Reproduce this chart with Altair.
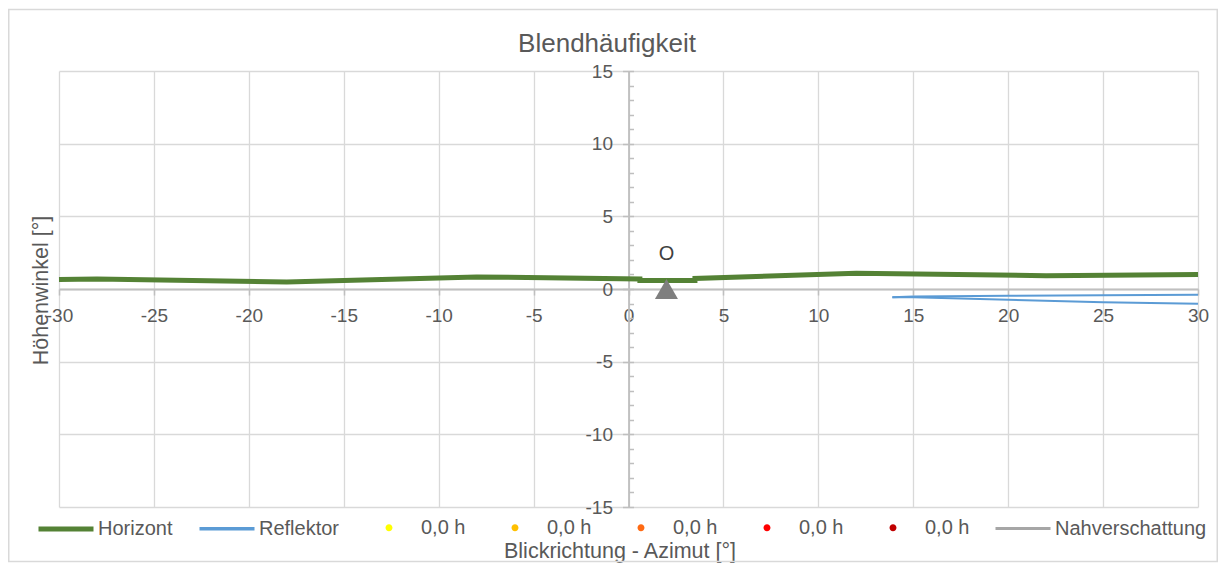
import altair as alt
import pandas as pd

# ---------------- data ----------------
horizont_x = [-30, -28, -18, -8, 0.6, 0.6, 3.5, 3.5, 12, 22, 30]
horizont_y = [0.65, 0.69, 0.48, 0.83, 0.69, 0.58, 0.58, 0.72, 1.08, 0.92, 0.99]

refl_upper_x = [13.9, 15, 20, 25, 30]
refl_upper_y = [-0.56, -0.52, -0.47, -0.43, -0.40]
refl_lower_x = [13.9, 15, 20, 25, 30]
refl_lower_y = [-0.56, -0.57, -0.74, -0.91, -1.02]

marker_x = [2]
marker_y = [0]
marker_label = ["O"]

legend_keys = ["Horizont", "Reflektor", "0,0 h#1", "0,0 h#2", "0,0 h#3",
               "0,0 h#4", "0,0 h#5", "Nahverschattung"]
legend_colors = ["#548235", "#5B9BD5", "#FFFF00", "#FFC000", "#FF6A13",
                 "#FF0000", "#C00000", "#A6A6A6"]

x_ticks = list(range(-30, 31, 5))
y_ticks = list(range(-15, 16, 5))
y_minor = list(range(-15, 16, 1))

# ---------------- styling ----------------
FONT = "Liberation Sans"
TXT = "#595959"
GRID = "#d9d9d9"
AXC = "#bfbfbf"
W, H = 1139, 436
PAD = {"left": 51, "top": 63, "right": 20, "bottom": 56}

LINE = "M-1,0L1,0"
r = 0.127
DOT = f"M{-r},0A{r},{r},0,1,0,{r},0A{r},{r},0,1,0,{-r},0Z"
legend_shapes = [LINE, LINE, DOT, DOT, DOT, DOT, DOT, LINE]
legend_widths = [5, 3.5, 0, 0, 0, 0, 0, 3]

x_scale = alt.Scale(domain=[-30, 30], nice=False, zero=False)
y_scale = alt.Scale(domain=[-15, 15], nice=False, zero=False)

hor_df = pd.DataFrame({"x": horizont_x, "y": horizont_y, "i": range(len(horizont_x))})
refl_df = pd.concat([
    pd.DataFrame({"x": refl_upper_x, "y": refl_upper_y, "part": "a", "i": range(len(refl_upper_x))}),
    pd.DataFrame({"x": refl_lower_x, "y": refl_lower_y, "part": "b", "i": range(len(refl_lower_x))}),
])
mark_df = pd.DataFrame({"x": marker_x, "y": marker_y, "label": marker_label})
leg_df = pd.DataFrame({"series": legend_keys})

x_axis = alt.Axis(
    values=x_ticks, offset=-H / 2, grid=True, gridColor=GRID, gridWidth=1.3,
    domainColor=AXC, domainWidth=1.8, tickColor=AXC, tickWidth=1.5, tickSize=6,
    labelPadding=11, labelFontSize=19, labelColor=TXT, labelFlush=False,
    labelOverlap=False, labelExpr="'' + datum.value",
    title="Blickrichtung - Azimut [°]", titleFontSize=21.5,
    titleFontWeight="normal", titleColor=TXT, titleBaseline="middle",
    titleX=560.5, titleY=262,
)
y_axis = alt.Axis(
    values=y_ticks, offset=-W / 2, grid=True, gridColor=GRID, gridWidth=1.3,
    domainColor=AXC, domainWidth=1.8, tickColor=AXC, tickWidth=1.5, tickSize=6,
    labelPadding=10, labelFontSize=19, labelColor=TXT, labelFlush=False,
    labelOverlap=False, labelExpr="'' + datum.value",
    title="Höhenwinkel [°]", titleFontSize=21.5,
    titleFontWeight="normal", titleColor=TXT, titleAngle=270,
    titleBaseline="middle", titleAlign="center", titleX=-W / 2 - 18, titleY=H / 2 + 1,
)
y_minor_axis = alt.Axis(
    orient="right", offset=-W / 2, values=y_minor, labels=False, domain=False,
    grid=False, ticks=True, tickSize=5, tickColor=AXC, tickWidth=1.5,
)

horizont = alt.Chart(hor_df).mark_line(color="#548235", strokeWidth=5).encode(
    x=alt.X("x:Q", scale=x_scale, axis=x_axis),
    y=alt.Y("y:Q", scale=y_scale, axis=y_axis),
    order="i:Q",
)

reflektor = alt.Chart(refl_df).mark_line(color="#5B9BD5", strokeWidth=2).encode(
    x=alt.X("x:Q", scale=x_scale),
    y=alt.Y("y:Q", scale=y_scale, axis=y_minor_axis, title=None),
    detail="part:N",
    order="i:Q",
)

marker = alt.Chart(mark_df).mark_point(
    shape="triangle-up", filled=True, size=530, color="#7F7F7F", opacity=1
).encode(
    x=alt.X("x:Q", scale=x_scale),
    y=alt.Y("y:Q", scale=y_scale, axis=None),
)

marker_text = alt.Chart(mark_df).mark_text(
    dy=-35, fontSize=20, color="#404040", baseline="middle"
).encode(
    x=alt.X("x:Q", scale=x_scale),
    y=alt.Y("y:Q", scale=y_scale, axis=None),
    text="label:N",
)

leg = alt.Legend(
    title=None, orient="none", legendX=-23, legendY=428, direction="horizontal",
    columns=8, columnPadding=19, labelOffset=2, labelFontSize=20,
    labelColor=TXT, symbolSize=3025, symbolOpacity=1,
    labelExpr="indexof(datum.label, '#') > 0 ? slice(datum.label, 0, 5) : datum.label",
)
legend_layer = alt.Chart(leg_df).mark_point(opacity=0).encode(
    fill=alt.Fill("series:N", scale=alt.Scale(domain=legend_keys, range=legend_colors), legend=leg),
    stroke=alt.Stroke("series:N", scale=alt.Scale(domain=legend_keys, range=legend_colors), legend=leg),
    shape=alt.Shape("series:N", scale=alt.Scale(domain=legend_keys, range=legend_shapes), legend=leg),
    strokeWidth=alt.StrokeWidth("series:N", scale=alt.Scale(type="ordinal", domain=legend_keys, range=legend_widths), legend=leg),
)

# outer chart frame (decoration), inset inside the view's padding
fx1 = -PAD["left"] + 0.75
fx2 = W + PAD["right"] - 0.75
fy1 = -PAD["top"] + 1.5
fy2 = H + PAD["bottom"] - 1.5
frame = alt.Chart(pd.DataFrame({"a": [0]})).mark_rect(
    fill="transparent", stroke="#d9d9d9", strokeWidth=1.5
).encode(
    x=alt.value(fx1), x2=alt.value(fx2), y=alt.value(fy1), y2=alt.value(fy2)
)

# title: Vega anchors it above the layer bounds, shift it down to its place
title_dy = 69

chart = alt.layer(
    frame, horizont, reflektor, marker, marker_text, legend_layer
).resolve_axis(y="independent").properties(
    width=W, height=H,
    padding=PAD,
    autosize=alt.AutoSizeParams(type="none"),
    title=alt.TitleParams(
        "Blendhäufigkeit", fontSize=26, font=FONT, color=TXT, fontWeight="normal",
        anchor="middle", dx=-21.5, dy=title_dy, offset=0, baseline="alphabetic",
    ),
).configure(font=FONT).configure_view(stroke="transparent")

chart.save("out.html", embed_options={"renderer": "svg", "actions": False})
